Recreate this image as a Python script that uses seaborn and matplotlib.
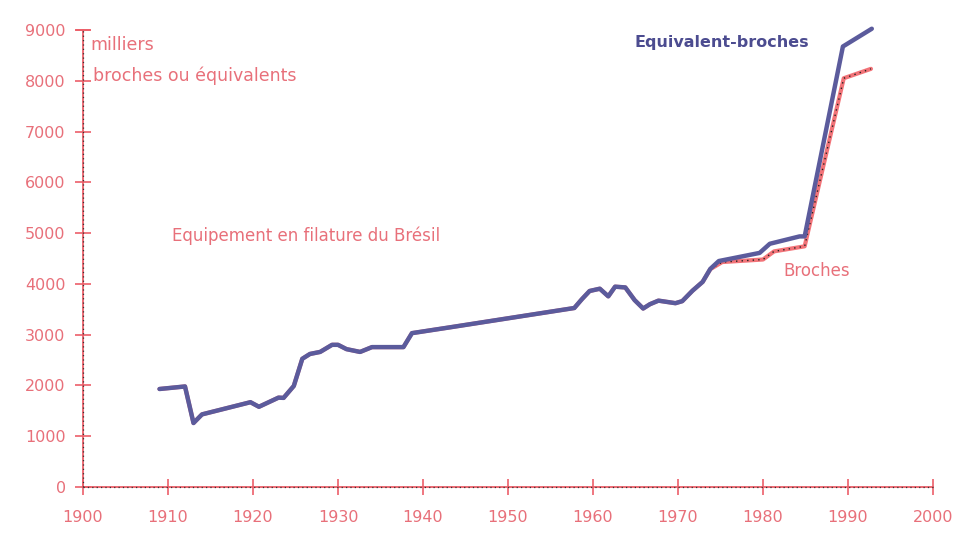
import matplotlib
matplotlib.use("Agg")
import matplotlib.pyplot as plt
import seaborn as sns
import pandas as pd

# ---- data (milliers de broches) ----
years_eq = [1909, 1912, 1913, 1914, 1919.7, 1920.7, 1923, 1923.6, 1924.8, 1925.8,
            1926.7, 1927.9, 1929.3, 1930, 1931, 1932.6, 1934, 1937.7, 1938.7, 1943,
            1957.8, 1958.7, 1959.6, 1960.8, 1961.8, 1962.6, 1963.8, 1964.9, 1965.9,
            1966.7, 1967.7, 1969.7, 1970.5, 1971.7, 1972.9, 1973.8, 1974.8, 1979.6,
            1980.8, 1984.3, 1984.9, 1989.4, 1992.8]
equiv = [1930, 1980, 1260, 1430, 1670, 1580, 1760, 1755, 1990, 2525,
         2620, 2660, 2800, 2800, 2715, 2660, 2755, 2755, 3030, 3140,
         3525, 3700, 3860, 3905, 3755, 3945, 3930, 3680, 3515,
         3600, 3670, 3620, 3660, 3865, 4040, 4295, 4450, 4610,
         4790, 4935, 4935, 8675, 9025]

years_br = [1909, 1912, 1913, 1914, 1919.7, 1920.7, 1923, 1923.6, 1924.8, 1925.8,
            1926.7, 1927.9, 1929.3, 1930, 1931, 1932.6, 1934, 1937.7, 1938.7, 1943,
            1957.8, 1958.7, 1959.6, 1960.8, 1961.8, 1962.6, 1963.8, 1964.9, 1965.9,
            1966.7, 1967.7, 1969.7, 1970.5, 1971.7, 1972.9, 1973.8, 1975.2, 1980.0,
            1981.3, 1984.9, 1989.5, 1992.7]
broches = [1930, 1980, 1260, 1430, 1670, 1580, 1760, 1755, 1990, 2525,
           2620, 2660, 2800, 2800, 2715, 2660, 2755, 2755, 3030, 3140,
           3525, 3700, 3860, 3905, 3755, 3945, 3930, 3680, 3515,
           3600, 3670, 3620, 3660, 3865, 4040, 4290, 4430, 4480,
           4640, 4740, 8050, 8235]

x_ticks = list(range(1900, 2001, 10))
y_ticks = list(range(0, 9001, 1000))

RED = "#ec5f69"
TXT = "#e8707a"
BLUE = "#5b5b9c"
BLUE_TXT = "#4c4c90"

sns.set_style("white")
plt.rcParams["font.family"] = ["DejaVu Sans"]

df_eq = pd.DataFrame({"annee": years_eq, "valeur": equiv})
df_br = pd.DataFrame({"annee": years_br, "valeur": broches})

fig = plt.figure(figsize=(9.59, 5.36), dpi=100)
ax = fig.add_axes([83 / 959, 1 - 487 / 536, (933 - 83) / 959, (487 - 30) / 536])

# Broches: red line with black dotted overlay
sns.lineplot(data=df_br, x="annee", y="valeur", ax=ax, color="#f27378",
             linewidth=3.0, sort=False, estimator=None, clip_on=False, zorder=3)
sns.lineplot(data=df_br, x="annee", y="valeur", ax=ax, color="#222222",
             linewidth=1.0, linestyle=(0, (1, 3)), sort=False, estimator=None,
             clip_on=False, zorder=4)
# Equivalent-broches
sns.lineplot(data=df_eq, x="annee", y="valeur", ax=ax, color=BLUE,
             linewidth=3.2, sort=False, estimator=None, clip_on=False, zorder=5)

ax.set_xlim(1900, 2000)
ax.set_ylim(0, 9000)
ax.set_xticks(x_ticks)
ax.set_yticks(y_ticks)
ax.set_xlabel("")
ax.set_ylabel("")

for s in ["top", "right"]:
    ax.spines[s].set_visible(False)
for s in ["left", "bottom"]:
    ax.spines[s].set_color(RED)
    ax.spines[s].set_linewidth(1.3)

# black dotted overlay on the axes lines
ax.axhline(0, color="#333333", linewidth=0.9, linestyle=(0, (1, 2.5)), zorder=6, clip_on=False)
ax.axvline(1900, color="#333333", linewidth=0.9, linestyle=(0, (1, 2.5)), zorder=6, clip_on=False)

ax.tick_params(axis="both", bottom=True, left=True, direction="inout", length=11,
               width=1.2, colors=RED, labelcolor=TXT, labelsize=11.5)
ax.tick_params(axis="y", pad=7)
ax.tick_params(axis="x", pad=11)

# T-bar at the top of y axis
ax.plot([1899.2, 1900.8], [9000, 9000], color=RED, linewidth=1.3, clip_on=False)

ax.grid(False)

fig.text(90 / 959, 1 - 45 / 536, "milliers", color=TXT, fontsize=12.5,
         ha="left", va="center")
fig.text(93 / 959, 1 - 76 / 536, "broches ou équivalents", color=TXT, fontsize=12.5,
         ha="left", va="center")
fig.text(172 / 959, 1 - 236 / 536, "Equipement en filature du Brésil", color=TXT,
         fontsize=12, ha="left", va="center")
fig.text(634 / 959, 1 - 43 / 536, "Equivalent-broches", color=BLUE_TXT,
         fontsize=11.5, fontweight="bold", ha="left", va="center")
fig.text(783 / 959, 1 - 271 / 536, "Broches", color=TXT, fontsize=12,
         ha="left", va="center")

fig.savefig("out.png", dpi=100, facecolor="white")
